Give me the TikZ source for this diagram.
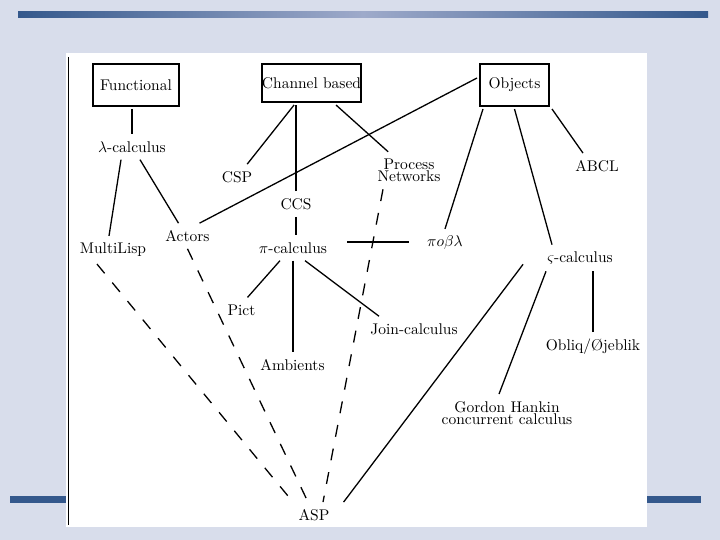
\documentclass[tikz,border=0pt]{standalone}
\usepackage{fontspec}
\setmainfont{lmroman10-regular}[Extension=.otf]
\usepackage{xcolor}
\usepackage{tikz}
\usepackage{amsmath}
\DeclareFontShape{OML}{cmm}{m}{it}{<->cmmi10}{}

\definecolor{slidebg}{RGB}{216,221,235}
\definecolor{bardark}{RGB}{52,88,140}
\definecolor{barlight}{RGB}{158,170,202}

\begin{document}
\begin{tikzpicture}[x=1pt, y=-1pt,
    font=\fontsize{15.5}{12.4}\selectfont,
    box/.style={draw, rectangle, line width=2pt, inner xsep=0pt, outer sep=3pt},
    term/.style={inner xsep=4pt, inner ysep=7pt, align=center},
    link/.style={line width=1.3pt},
    maybe/.style={line width=1.3pt, dash pattern=on 12pt off 12pt}]
    \useasboundingbox (0,0) rectangle (720,540);
    \fill[slidebg] (0,0) rectangle (720,540);
    \shade[left color=bardark, right color=bardark, middle color=barlight] (18,12) rectangle (708,18);
    \fill[bardark] (10,496) rectangle (66,503);
    \fill[bardark] (647,496) rectangle (701,503);
    \fill[white] (66,53) rectangle (647,527);
    \draw[line width=1pt] (68,57) -- (68,525);

    \node (func) [box, minimum width=86pt, minimum height=42pt] at (136,85) {Functional};
    \node (chan) [box, minimum width=99pt, minimum height=38pt] at (311.5,83) {Channel based};
    \node (obj) [box, minimum width=69pt, minimum height=42pt] at (514.5,85) {Objects};

    \node (lam) [term] at (132,147) {$\lambda$-calculus};
    \node (csp) [term] at (237,177) {CSP};
    \node (ccs) [term] at (296,204) {CCS};
    \node (pn) [term] at (409,170.5) {Process\\Networks};
    \node (abcl) [term] at (597,166) {ABCL};
    \node (mlisp) [term] at (113,250) {MultiLisp};
    \node (actors) [term] at (187.5,236) {Actors};
    \node (pi) [term] at (293,248) {$\pi$-calculus};
    \node (pobl) [term] at (445,243) {$\pi o\beta\lambda$};
    \node (sigma) [term] at (580,258) {$\varsigma$-calculus};
    \node (pict) [term] at (241.5,310) {Pict};
    \node (join) [term] at (414,329) {Join-calculus};
    \node (amb) [term] at (292.5,365) {Ambients};
    \node (obliq) [term] at (593,347) {Obliq/Øjeblik};
    \node (gh) [term] at (507,413) {Gordon Hankin\\concurrent calculus};
    \node (asp) [term] at (314,515) {ASP};

    \draw[link] (func.south -| lam.north) -- (lam.north);
    \draw[link] (chan) -- (csp);
    \draw[link] (ccs.north) -- (ccs.north |- chan.south);
    \draw[link] (chan) -- (pn);
    \draw[link] (ccs.south) -- (ccs.south |- pi.north);
    \draw[link] ([yshift=7pt]obj.west) -- ([xshift=12pt]actors.north);
    \draw[link] ([xshift=6pt]obj.south west) -- (pobl.north);
    \draw[link] (obj.south) -- ([xshift=-28pt]sigma.north);
    \draw[link] (obj.south east) -- ([xshift=-14pt]abcl.north);
    \draw[link] ([xshift=-11pt]lam.south) -- ([xshift=-4pt]mlisp.north);
    \draw[link] ([xshift=8pt]lam.south) -- ([xshift=-9pt]actors.north);
    \draw[link] ([xshift=16pt,yshift=6pt]pi.east) -- ([xshift=-14pt,yshift=1pt]pobl.west);
    \draw[link] ([xshift=-13pt]pi.south) -- ([xshift=6pt]pict.north);
    \draw[link] (pi.south) -- (pi.south |- amb.north);
    \draw[link] ([xshift=12pt]pi.south) -- ([xshift=-35pt]join.north);
    \draw[link] (obliq.north) -- (obliq.north |- sigma.south);
    \draw[link] ([xshift=-34pt]sigma.south) -- ([xshift=-8pt]gh.north);
    \draw[link] ([xshift=-20pt,yshift=7pt]sigma.south west) -- ([xshift=10pt]asp.north east);
    \draw[maybe] ([xshift=-16pt]mlisp.south) -- ([xshift=-21pt]asp.north);
    \draw[maybe] (actors.south) -- ([xshift=-6pt]asp.north);
    \draw[maybe] ([xshift=-26pt]pn.south) -- ([xshift=9pt]asp.north);
\end{tikzpicture}
\end{document}
